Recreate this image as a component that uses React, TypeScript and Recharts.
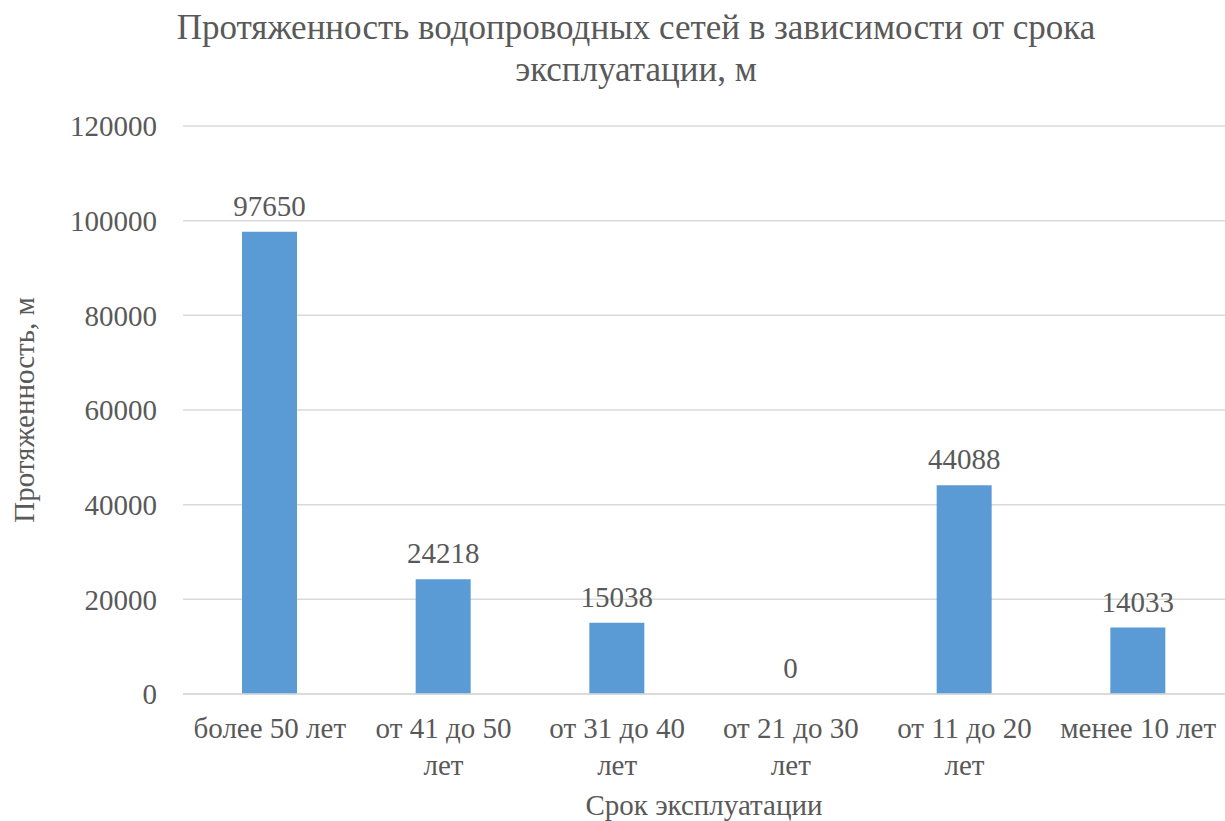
import { BarChart, Bar, XAxis, YAxis, CartesianGrid, LabelList, Label } from 'recharts';

const categories = ['более 50 лет', 'от 41 до 50 лет', 'от 31 до 40 лет', 'от 21 до 30 лет', 'от 11 до 20 лет', 'менее 10 лет'];
const lengths = [97650, 24218, 15038, 0, 44088, 14033];
const yTicks = [0, 20000, 40000, 60000, 80000, 100000, 120000];

const chartData = categories.map((name, i) => ({ name, value: lengths[i] }));

const FONT = '"Liberation Serif", "Times New Roman", serif';
const TEXT = '#595959';

function wrap(label: string, maxChars = 12) {
  const lines: string[] = [];
  let cur = '';
  for (const w of label.split(' ')) {
    const next = cur ? `${cur} ${w}` : w;
    if (next.length > maxChars && cur) {
      lines.push(cur);
      cur = w;
    } else {
      cur = next;
    }
  }
  if (cur) lines.push(cur);
  return lines;
}

function CategoryTick({ x, y, payload }: any) {
  const lines = wrap(payload.value);
  return (
    <text x={x} y={y} textAnchor="middle" fill={TEXT} fontSize={29} fontFamily={FONT}>
      {lines.map((l, i) => (
        <tspan key={i} x={x} dy={i === 0 ? 36 : 37}>{l}</tspan>
      ))}
    </text>
  );
}

function ValueLabel({ x, y, width, value }: any) {
  return (
    <text x={Number(x) + Number(width) / 2} y={Number(y) - 16} textAnchor="middle" fill={TEXT} fontSize={29} fontFamily={FONT}>
      {String(value)}
    </text>
  );
}

export default function App() {
  return (
    <div style={{ position: 'absolute', left: 0, top: 0, width: 1225, height: 821, background: '#fff', fontFamily: FONT }}>
      <div style={{ position: 'absolute', left: 0, width: 1272, top: 7, textAlign: 'center', color: TEXT, fontSize: 35, lineHeight: '42px' }}>
        Протяженность водопроводных сетей в зависимости от срока
        <br />
        эксплуатации, м
      </div>
      <BarChart width={1225} height={821} data={chartData} margin={{ top: 126, right: 0, bottom: 0, left: 0 }}>
        <CartesianGrid vertical={false} stroke="#D9D9D9" strokeWidth={1.5} />
        <XAxis
          dataKey="name"
          height={127}
          tick={<CategoryTick />}
          tickLine={false}
          axisLine={{ stroke: '#D9D9D9', strokeWidth: 1.5 }}
          interval={0}
        >
          <Label value="Срок эксплуатации" position="insideBottom" offset={6} fill={TEXT} fontSize={29} fontFamily={FONT} />
        </XAxis>
        <YAxis
          width={183}
          domain={[0, 120000]}
          ticks={yTicks}
          tickLine={false}
          axisLine={false}
          tickSize={0}
          tickMargin={26}
          tick={{ fill: TEXT, fontSize: 29, fontFamily: FONT }}
        >
          <Label value="Протяженность, м" angle={-90} position="insideLeft" offset={24} fill={TEXT} fontSize={29} fontFamily={FONT} style={{ textAnchor: 'middle' }} />
        </YAxis>
        <Bar dataKey="value" fill="#5B9BD5" barSize={55} minPointSize={0.01} isAnimationActive={false}>
          <LabelList dataKey="value" content={<ValueLabel />} />
        </Bar>
      </BarChart>
    </div>
  );
}
